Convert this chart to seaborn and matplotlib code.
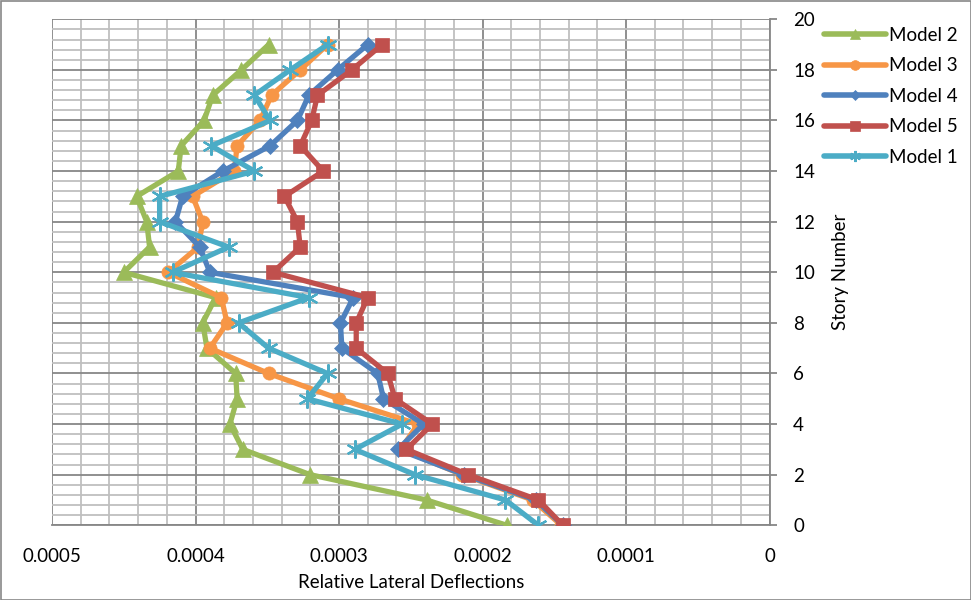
import matplotlib
matplotlib.use("Agg")
import matplotlib.pyplot as plt
import seaborn as sns
import numpy as np
import pandas as pd
from matplotlib.ticker import MultipleLocator, FixedLocator, FixedFormatter
from matplotlib.patches import Rectangle

stories = list(range(20))
model2 = [0.000183, 0.000239, 0.000320, 0.000367, 0.000376, 0.000371, 0.000372, 0.000392,
          0.000395, 0.000386, 0.000450, 0.000432, 0.000434, 0.000441, 0.000412, 0.000410,
          0.000394, 0.000388, 0.000368, 0.000349]
model3 = [0.000145, 0.000165, 0.000214, 0.000257, 0.000245, 0.000300, 0.000349, 0.000390,
          0.000378, 0.000382, 0.000419, 0.000398, 0.000395, 0.000402, 0.000373, 0.000371,
          0.000355, 0.000347, 0.000327, 0.000308]
model4 = [0.000144, 0.000163, 0.000213, 0.000259, 0.000241, 0.000269, 0.000273, 0.000298,
          0.000299, 0.000290, 0.000390, 0.000397, 0.000414, 0.000409, 0.000381, 0.000348,
          0.000329, 0.000321, 0.000301, 0.000280]
model5 = [0.000144, 0.000161, 0.000210, 0.000253, 0.000235, 0.000261, 0.000266, 0.000288,
          0.000288, 0.000280, 0.000346, 0.000327, 0.000329, 0.000338, 0.000311, 0.000327,
          0.000319, 0.000315, 0.000291, 0.000270]
model1 = [0.000161, 0.000184, 0.000247, 0.000289, 0.000256, 0.000322, 0.000308, 0.000349,
          0.000370, 0.000321, 0.000416, 0.000377, 0.000425, 0.000425, 0.000359, 0.000389,
          0.000348, 0.000359, 0.000334, 0.000308]

series_names = ["Model 2", "Model 3", "Model 4", "Model 5", "Model 1"]
series_vals = [model2, model3, model4, model5, model1]
x_ticks = [0.0005, 0.0004, 0.0003, 0.0002, 0.0001, 0.0]
x_tick_labels = ["0.0005", "0.0004", "0.0003", "0.0002", "0.0001", "0"]
y_ticks = list(range(0, 21, 2))

colors = {"Model 2": "#9BBB59", "Model 3": "#F79646", "Model 4": "#4F81BD",
          "Model 5": "#C0504D", "Model 1": "#4BACC6"}
markers = {"Model 2": "^", "Model 3": "o", "Model 4": "D", "Model 5": "s", "Model 1": (6, 2, 0)}
msizes = {"Model 2": 12, "Model 3": 9.5, "Model 4": 8, "Model 5": 9.5, "Model 1": 13}
leg_msizes = {"Model 2": 7, "Model 3": 7, "Model 4": 5.5, "Model 5": 6.5, "Model 1": 8}

sns.set_theme(style="white")
plt.rcParams['font.family'] = ['Lato', 'DejaVu Sans']

fig = plt.figure(figsize=(9.71, 6.0), dpi=100)
ax = fig.add_axes([52/971, 1 - 525.3/600, (769.5 - 52)/971, (525.3 - 19.3)/600])

rows = []
for name, vals in zip(series_names, series_vals):
    for s, v in zip(stories, vals):
        rows.append({"model": name, "story": s, "defl": v})
df = pd.DataFrame(rows)

for i, name in enumerate(series_names):
    sub = df[df["model"] == name]
    sns.lineplot(data=sub, x="defl", y="story", sort=False, estimator=None, ax=ax,
                 color=colors[name], lw=3.8, marker=markers[name], markersize=msizes[name],
                 markeredgecolor=colors[name], markeredgewidth=1.6 if name == "Model 1" else 0.5,
                 label=name, zorder=3 + i)

ax.set_xlim(0.0005, 0.0)
ax.set_ylim(0, 20)

ax.xaxis.set_major_locator(FixedLocator(x_ticks))
ax.xaxis.set_major_formatter(FixedFormatter(x_tick_labels))
ax.xaxis.set_minor_locator(MultipleLocator(0.00002))
ax.yaxis.set_major_locator(FixedLocator(y_ticks))
ax.yaxis.set_minor_locator(MultipleLocator(0.4))

ax.grid(True, which="major", color="#878787", lw=1.3, zorder=0)
ax.grid(True, which="minor", color="#BFBFBF", lw=1.3, zorder=0)
ax.set_axisbelow(True)

ax.yaxis.tick_right()
ax.yaxis.set_label_position("right")
for side in ["top", "left"]:
    ax.spines[side].set_visible(False)
for side in ["bottom", "right"]:
    ax.spines[side].set_color("#878787")
    ax.spines[side].set_linewidth(1.3)
ax.tick_params(axis="both", which="major", length=5, width=1.3, color="#878787",
               labelsize=13.5, labelcolor="black", direction="out")
ax.tick_params(axis="x", pad=11)
ax.tick_params(axis="y", pad=12)
ax.tick_params(which="minor", length=0)

ax.set_xlabel("Relative Lateral Deflections", fontsize=13.5, color="black", labelpad=7)
ax.set_ylabel("Story Number", fontsize=13.5, color="black", labelpad=12)

leg = ax.legend(loc="upper left", bbox_to_anchor=(1.066, 1.0), frameon=False,
                fontsize=13.5, handlelength=3.3, handletextpad=0.15, labelspacing=0.72,
                borderaxespad=0)
for t in leg.get_texts():
    t.set_color("black")
for h, name in zip(leg.legend_handles, series_names):
    h.set_markersize(leg_msizes[name])
    h.set_linewidth(4.0)

fig.patches.append(Rectangle((0.5/971, 0.5/600), 1 - 1/971, 1 - 1/600, transform=fig.transFigure,
                             fill=False, edgecolor="#878787", lw=1.2))

fig.savefig("out.png", dpi=100, facecolor="white")
